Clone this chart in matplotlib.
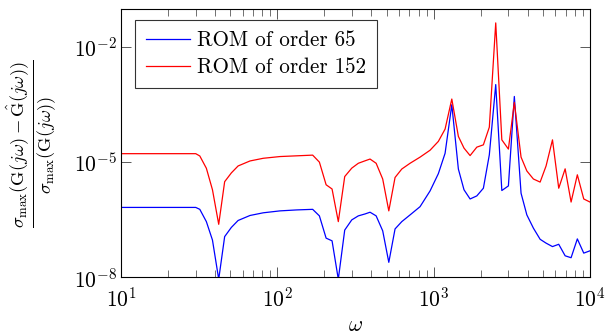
import matplotlib
matplotlib.use("Agg")
import matplotlib.pyplot as plt
import numpy as np
from matplotlib.ticker import LogLocator, FixedLocator, NullLocator

# frequencies (log10 of omega) at the visible kinks of the curves
log_omega = [1.000, 1.478, 1.504, 1.546, 1.585, 1.625, 1.663, 1.706, 1.749, 1.825,
             1.910, 2.017, 2.124, 2.226, 2.269, 2.312, 2.350, 2.390, 2.431, 2.476,
             2.518, 2.561, 2.593, 2.632, 2.674, 2.713, 2.753, 2.796, 2.849, 2.913,
             2.977, 3.030, 3.073, 3.116, 3.158, 3.194, 3.233, 3.276, 3.318, 3.356,
             3.397, 3.436, 3.478, 3.516, 3.559, 3.596, 3.638, 3.681, 3.719, 3.760,
             3.800, 3.841, 3.879, 3.919, 3.960, 4.000]

# log10 of relative error, ROM of order 65
log_err_65 = [-6.18, -6.18, -6.23, -6.55, -7.03, -8.05, -6.94, -6.70, -6.52, -6.39,
              -6.32, -6.27, -6.245, -6.23, -6.40, -6.98, -7.05, -8.05, -6.77, -6.505,
              -6.40, -6.35, -6.305, -6.40, -6.79, -7.61, -6.74, -6.55, -6.375, -6.16,
              -5.75, -5.30, -4.77, -3.505, -5.18, -5.72, -5.96, -5.88, -5.68, -4.81,
              -2.98, -5.74, -5.62, -3.29, -5.81, -6.375, -6.72, -7.01, -7.11, -7.20,
              -7.14, -7.44, -7.49, -7.00, -7.37, -7.31]

# log10 of relative error, ROM of order 152
log_err_152 = [-4.78, -4.78, -4.84, -5.16, -5.72, -6.62, -5.51, -5.28, -5.10, -4.97,
               -4.90, -4.855, -4.836, -4.818, -5.00, -5.59, -5.70, -6.55, -5.376, -5.157,
               -5.03, -4.966, -4.92, -5.03, -5.44, -6.27, -5.40, -5.18, -5.03, -4.87,
               -4.69, -4.46, -4.14, -3.357, -4.33, -4.635, -4.83, -4.61, -4.55, -4.09,
               -1.374, -4.42, -4.66, -3.445, -4.87, -5.23, -5.44, -5.52, -5.10, -4.42,
               -5.68, -5.175, -6.04, -5.33, -5.96, -6.04]

labels = ["ROM of order 65", "ROM of order 152"]
colors = ["#0000ff", "#ff0000"]

plt.rcParams["font.family"] = "cmr10"
plt.rcParams["mathtext.fontset"] = "cm"
plt.rcParams["axes.formatter.use_mathtext"] = True

omega = 10.0 ** np.array(log_omega)

fig = plt.figure(figsize=(6.09, 3.36), dpi=100)
ax = fig.add_axes([0.1987, 0.1747, 0.7701, 0.7976])

for vals, lbl, c in zip([log_err_65, log_err_152], labels, colors):
    ax.plot(omega, 10.0 ** np.array(vals), color=c, lw=0.9, label=lbl)

ax.set_xscale("log")
ax.set_yscale("log")
ax.set_xlim(10, 1e4)
ax.set_ylim(1e-8, 10 ** -1.02)

ax.xaxis.set_major_locator(LogLocator(base=10, numticks=10))
ax.xaxis.set_minor_locator(LogLocator(base=10, subs=np.arange(2, 10), numticks=30))
ax.yaxis.set_major_locator(FixedLocator([1e-8, 1e-5, 1e-2]))
ax.yaxis.set_minor_locator(NullLocator())

ax.tick_params(which="both", direction="in", top=True, right=True,
               color="0.35", labelsize=15.5)
ax.tick_params(which="major", length=7.5, width=0.7)
ax.tick_params(which="minor", length=5, width=0.6)
ax.tick_params(axis="x", which="major", pad=7)
ax.tick_params(axis="y", which="major", pad=3)
for s in ax.spines.values():
    s.set_linewidth(0.8)

ax.set_xlabel(r"$\omega$", fontsize=15.5, labelpad=3)
ax.set_ylabel(r"$\frac{\sigma_{\max}(\mathrm{G}(j\omega)-\hat{\mathrm{G}}(j\omega))}"
              r"{\sigma_{\max}(\mathrm{G}(j\omega))}$", fontsize=19)
ax.yaxis.set_label_coords(-0.133, 0.5)

leg = ax.legend(loc="upper left", bbox_to_anchor=(0.03, 0.96), borderaxespad=0,
                fontsize=15.2, frameon=True, fancybox=False, edgecolor="black",
                handlelength=2.1, labelspacing=0.35, borderpad=0.5,
                handletextpad=0.35)
leg.get_frame().set_linewidth(0.8)

fig.savefig("out.png", dpi=100, facecolor="white")
